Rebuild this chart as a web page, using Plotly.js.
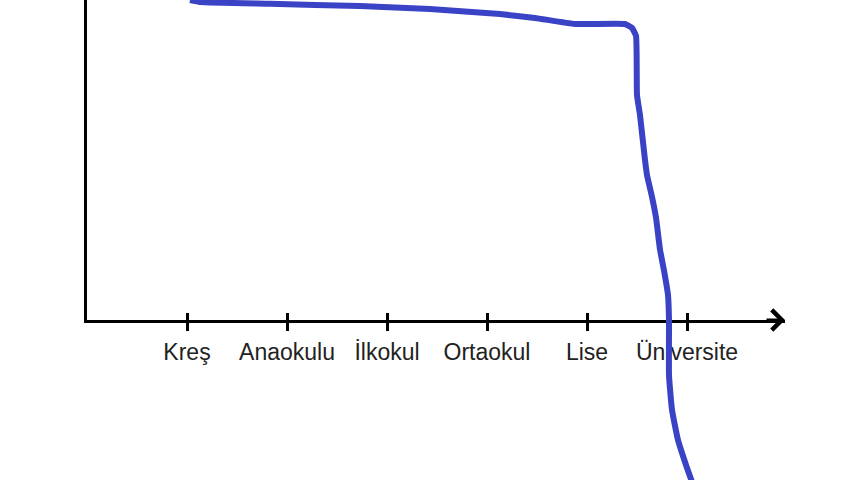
<!DOCTYPE html>
<html>
<head>
<meta charset="utf-8">
<script src="https://cdn.plot.ly/plotly-3.0.1.min.js"></script>
<style>
  html, body { margin: 0; padding: 0; background: #fff; }
  #chart { width: 860px; height: 480px; }
</style>
</head>
<body>
<div id="chart"></div>
<script>
// education stages on the x axis
var categories = ['Kreş', 'Anaokulu', 'İlkokul', 'Ortaokul', 'Lise', 'Üniversite'];
var tickPos = [1, 2, 3, 4, 5, 6];

// hand drawn curve (x in stage units, y in 0..100)
var curveX = [1.03, 1.13, 1.83, 2.73, 3.43, 4.13, 4.48, 4.88, 5.38, 5.45, 5.49,
              5.50, 5.53, 5.58, 5.60, 5.65, 5.69, 5.73, 5.77, 5.81, 5.82, 5.82,
              5.85, 5.91, 5.99, 6.05];
var curveY = [100, 99.4, 98.8, 98.1, 97.2, 95.6, 94.4, 92.5, 92.5, 91.3, 88.8,
              70.3, 64, 50, 45.3, 38.5, 32, 22, 15.5, 7.8, 0, -17.2,
              -28.1, -37.5, -45.3, -50.6];

var curve = {
  x: curveX,
  y: curveY,
  xaxis: 'x2',
  yaxis: 'y2',
  mode: 'lines',
  type: 'scatter',
  line: { color: '#3a42c6', width: 6, shape: 'spline', smoothing: 0.4 },
  hoverinfo: 'skip'
};

// empty traces so the axes subplot gets drawn under the curve
var axesTrace = {
  x: [], y: [], xaxis: 'x', yaxis: 'y',
  mode: 'lines', type: 'scatter', hoverinfo: 'skip'
};
var innerTicks = {
  x: [], y: [], xaxis: 'x3', yaxis: 'y',
  mode: 'lines', type: 'scatter', hoverinfo: 'skip'
};

var layout = {
  width: 860,
  height: 480,
  margin: { l: 0, r: 0, t: 0, b: 0, pad: 0 },
  paper_bgcolor: '#fff',
  plot_bgcolor: 'rgba(0,0,0,0)',
  showlegend: false,
  font: { family: 'Liberation Sans, Arial, sans-serif', size: 23, color: '#222' },
  xaxis: {
    domain: [87 / 860, 785 / 860],
    range: [0, 6.98],
    anchor: 'y',
    showline: true, linecolor: '#000', linewidth: 3,
    showgrid: false, zeroline: false,
    tickmode: 'array', tickvals: tickPos, ticktext: categories,
    ticks: 'outside', ticklen: 8, tickwidth: 3, tickcolor: '#000',
    ticklabelstandoff: 1,
    layer: 'below traces'
  },
  xaxis3: {
    overlaying: 'x',
    matches: 'x',
    anchor: 'y',
    side: 'bottom',
    showline: false, showgrid: false, zeroline: false,
    tickmode: 'array', tickvals: tickPos,
    showticklabels: false,
    ticks: 'inside', ticklen: 7, tickwidth: 3, tickcolor: '#000'
  },
  yaxis: {
    domain: [1 - 320 / 480, 1],
    range: [0, 100],
    anchor: 'x',
    showline: true, linecolor: '#000', linewidth: 3,
    showgrid: false, zeroline: false,
    showticklabels: false, ticks: ''
  },
  xaxis2: {
    domain: [0, 1], range: [-0.87, 7.73], anchor: 'y2',
    visible: false, fixedrange: true
  },
  yaxis2: {
    domain: [0, 1], range: [-50, 100], anchor: 'x2',
    visible: false, fixedrange: true
  },
  annotations: [{
    xref: 'x', yref: 'y', x: 6.98, y: 0,
    ax: -20, ay: 0, axref: 'pixel', ayref: 'pixel',
    text: '', showarrow: true,
    arrowhead: 4, arrowsize: 1.3, arrowwidth: 3, arrowcolor: '#000'
  }]
};

Plotly.newPlot('chart', [axesTrace, innerTicks, curve], layout, { displayModeBar: false, staticPlot: true });
</script>
</body>
</html>
